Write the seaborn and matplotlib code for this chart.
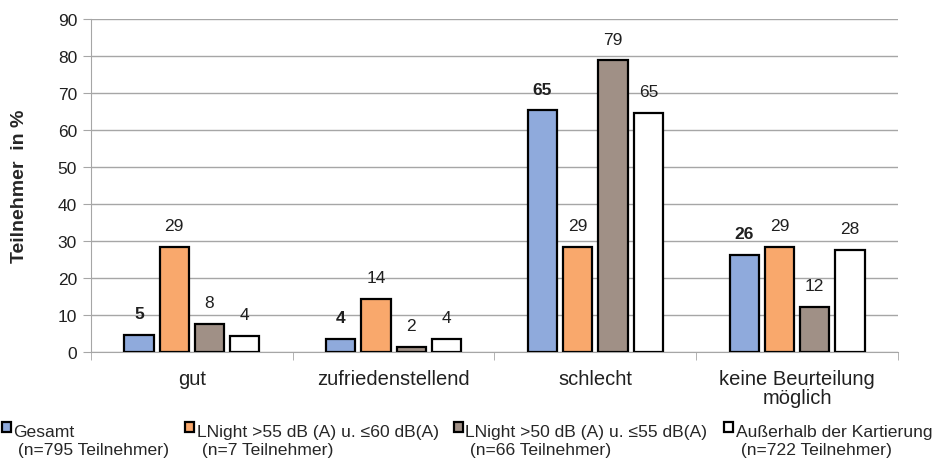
import matplotlib
matplotlib.use('Agg')
import matplotlib.pyplot as plt
import matplotlib.patches as mpatches
from matplotlib.legend_handler import HandlerPatch
import seaborn as sns
import pandas as pd

categories = ['gut', 'zufriedenstellend', 'schlecht', 'keine Beurteilung\nmöglich']
groups = ['Gesamt\n (n=795 Teilnehmer)',
          'LNight >55 dB (A) u. ≤60 dB(A)\n (n=7 Teilnehmer)',
          'LNight >50 dB (A) u. ≤55 dB(A)\n (n=66 Teilnehmer)',
          'Außerhalb der Kartierung\n (n=722 Teilnehmer)']
# bar heights, labels as printed
gesamt = [4.6, 3.6, 65.3, 26.2]
lnight_55_60 = [28.4, 14.3, 28.4, 28.4]
lnight_50_55 = [7.6, 1.4, 78.8, 12.2]
ausserhalb = [4.3, 3.6, 64.7, 27.6]
label_values = [[5, 4, 65, 26], [29, 14, 29, 29], [8, 2, 79, 12], [4, 4, 65, 28]]
yticks = list(range(0, 100, 10))

colors = ['#8FAADC', '#F9A86C', '#A09086', '#FFFFFF']
legend_x = [0.002, 0.198, 0.485, 0.774]


def top_square(legend, orig_handle, xdescent, ydescent, width, height, fontsize):
    # put the legend square next to the first text line
    return mpatches.Rectangle((-xdescent, -ydescent + 0.75 * fontsize), width, height)


def main():
    sns.set_style('white')
    plt.rcParams['font.family'] = ['Liberation Sans', 'DejaVu Sans']

    df = pd.DataFrame({
        'Kategorie': categories * 4,
        'Gruppe': [g for g in groups for _ in categories],
        'Wert': gesamt + lnight_55_60 + lnight_50_55 + ausserhalb,
    })

    fig = plt.figure(figsize=(9.36, 4.64), dpi=100)
    ax = fig.add_axes([0.0972, 0.2392, 0.8622, 0.7177])

    sns.barplot(x='Kategorie', y='Wert', hue='Gruppe', data=df, order=categories,
                hue_order=groups, palette=colors, width=0.70, gap=0.17,
                edgecolor='black', linewidth=1.6, saturation=1, ax=ax, zorder=3)

    for i, cont in enumerate(ax.containers):
        weight = 'bold' if i == 0 else 'normal'
        ax.bar_label(cont, labels=[str(v) for v in label_values[i]], padding=10,
                     fontsize=12.5, fontweight=weight, color='#202020')

    ax.set_ylim(0, 90)
    ax.set_xlim(-0.5, 3.5)
    ax.set_yticks(yticks)
    ax.yaxis.grid(True, color='#A6A6A6', linewidth=1, zorder=0)
    ax.set_axisbelow(True)
    for s in ['top', 'right']:
        ax.spines[s].set_visible(False)
    ax.spines['left'].set_color('#A6A6A6')
    ax.spines['bottom'].set_color('#A6A6A6')

    ax.tick_params(axis='y', direction='out', length=6, color='#A6A6A6',
                   labelsize=12.5, labelcolor='#202020', left=True, pad=4)
    ax.tick_params(axis='x', length=0, labelsize=14.5, labelcolor='#202020', pad=12)
    for lab in ax.get_xticklabels():
        lab.set_linespacing(1.05)
    ax.set_xticks([-0.5, 0.5, 1.5, 2.5, 3.5], minor=True)
    ax.tick_params(axis='x', which='minor', length=6, color='#A6A6A6', bottom=True)

    ax.set_xlabel('')
    ax.set_ylabel('Teilnehmer  in %', fontsize=14, fontweight='bold')
    ax.yaxis.set_label_coords(-0.078, 0.5)

    handles, labels = ax.get_legend_handles_labels()
    ax.get_legend().remove()
    for i in range(4):
        fig.legend([handles[i]], [labels[i]], loc='upper left',
                   bbox_to_anchor=(legend_x[i], 0.083), frameon=False,
                   fontsize=12.6, handlelength=0.5, handleheight=0.5,
                   handletextpad=0.15, borderaxespad=0, borderpad=0,
                   handler_map={mpatches.Rectangle: HandlerPatch(patch_func=top_square)})

    plt.savefig('out.png', dpi=100)
    plt.close()


if __name__ == '__main__':
    main()
